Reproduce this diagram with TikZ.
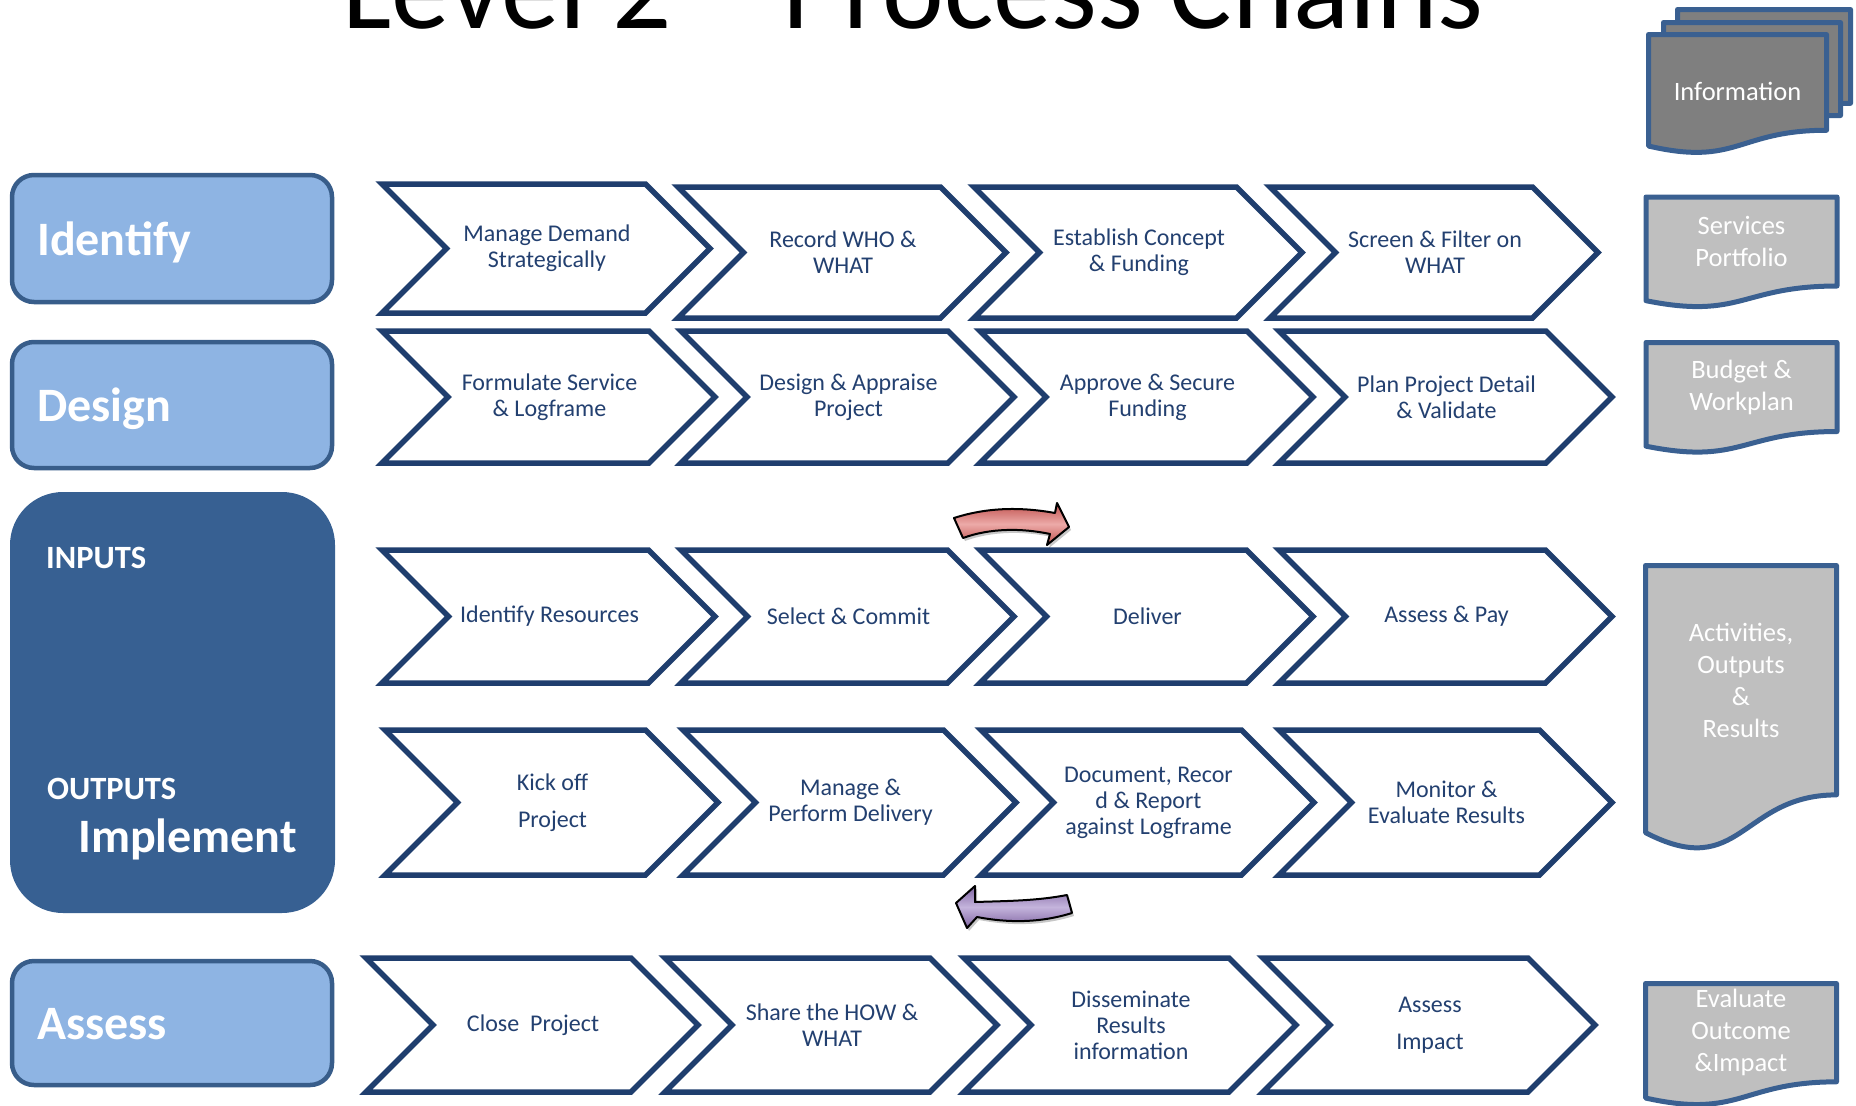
\documentclass[tikz,border=0pt]{standalone}
\usepackage{fontspec}
\setmainfont{Carlito}
\definecolor{navy}{RGB}{31,62,110}
\definecolor{navytext}{RGB}{35,64,112}
\definecolor{lightblue}{RGB}{142,180,227}
\definecolor{boxborder}{RGB}{56,93,138}
\definecolor{implblue}{RGB}{55,96,146}
\definecolor{docborder}{RGB}{58,96,145}
\definecolor{docfill}{RGB}{191,191,191}
\definecolor{docdark}{RGB}{127,127,127}
\definecolor{redE}{RGB}{192,80,77}
\definecolor{redM}{RGB}{236,170,168}
\definecolor{purE}{RGB}{128,100,162}
\definecolor{purM}{RGB}{196,180,220}
\tikzset{
 chevline/.style={draw=navy, line width=5.5pt, fill=white, line join=miter},
 chevtext/.style={text=navytext, align=center, font=\fontsize{24}{26}\selectfont, inner sep=0pt},
 lightbox/.style={draw=boxborder, line width=4.5pt, fill=lightblue, rounded corners=22pt, inner sep=0pt},
 phase/.style={text=white, font=\bfseries\fontsize{48}{52}\selectfont, anchor=base west, inner sep=0pt},
 subphase/.style={text=white, font=\bfseries\fontsize{32.5}{35}\selectfont, anchor=base west, inner sep=0pt},
 docline/.style={draw=docborder, line width=5pt, line join=round},
 doctext/.style={text=white, align=center, font=\fontsize{26.5}{32}\selectfont, inner sep=0pt},
 bentarrow/.style={draw=black, line width=2pt, line join=round,
   preaction={fill=black, fill opacity=0.22, transform canvas={shift={(2pt,-3pt)}}}},
}
\newcommand{\mychev}[6]{%
 \draw[chevline] (#2,#3) -- ({#2+#5-(#4-#3)/2},#3) -- ({#2+#5},{(#3+#4)/2}) -- ({#2+#5-(#4-#3)/2},#4) -- (#2,#4) -- ({#2+(#4-#3)/2},{(#3+#4)/2}) -- cycle;
 \node[chevtext] (#1) at ({#2+#5/2+1},{(#3+#4)/2}) {#6};
}
\newcommand{\mydoc}[7]{%
 \draw[docline, fill=#6] (#2,#3) -- ({#2+#4},#3) -- ({#2+#4},{#3+0.802*#5}) .. controls ({#2+0.5*#4},{#3+0.802*#5}) and ({#2+0.5*#4},{#3+1.107*#5}) .. (#2,{#3+0.934*#5}) -- cycle;
 \node[doctext] (#1) at ({#2+0.5*#4},{#3+0.401*#5}) {#7};
}
\begin{document}
\begin{tikzpicture}[x=1pt,y=-1pt]
\useasboundingbox (0,0) rectangle (1856,1106);
\clip (0,0) rectangle (1856,1106);
\fill[white] (0,0) rectangle (1856,1106);

% title
\node[anchor=base, font=\fontsize{117}{120}\selectfont, inner sep=0pt] (title) at (913,28) {Level 2 – Process Chains};

% left phase boxes
\node[lightbox, minimum width=320pt, minimum height=127pt] (identifyBox) at (172,238.5) {};
\node[phase] (identifyT) at (37,255) {Identify};
\node[lightbox, minimum width=320pt, minimum height=126pt] (designBox) at (172,405) {};
\node[phase] (designT) at (37,421) {Design};
\node[fill=implblue, rounded corners=53pt, minimum width=325pt, minimum height=421pt, inner sep=0pt] (implBox) at (172.5,702.5) {};
\node[subphase] (inputsT) at (46,568) {INPUTS};
\node[subphase] (outputsT) at (47,799) {OUTPUTS};
\node[phase] (implT) at (78,852) {Implement};
\node[lightbox, minimum width=320pt, minimum height=124pt] (assessBox) at (172,1023) {};
\node[phase] (assessT) at (37,1039.5) {Assess};

% row 1
\mychev{c11}{382}{184}{313}{328}{Manage Demand\\Strategically}
\mychev{c12}{678}{187}{318}{328}{Record WHO \&\\WHAT}
\mychev{c13}{974}{187}{318}{328}{Establish Concept\\\& Funding}
\mychev{c14}{1270}{187}{318}{328}{Screen \& Filter on\\WHAT}
% row 2
\mychev{c21}{382}{331}{463}{333}{Formulate Service\\\& Logframe}
\mychev{c22}{681}{331}{463}{333}{Design \& Appraise\\Project}
\mychev{c23}{980}{331}{463}{333}{Approve \& Secure\\Funding}
\mychev{c24}{1279}{331}{463}{333}{Plan Project Detail\\\& Validate}
% row 3
\mychev{c31}{382}{550}{683}{333}{Identify Resources}
\mychev{c32}{681}{550}{683}{333}{Select \& Commit}
\mychev{c33}{980}{550}{683}{333}{Deliver}
\mychev{c34}{1279}{550}{683}{333}{Assess \& Pay}
% row 4
\mychev{c41}{385}{730}{875}{333}{Kick off\\[11pt]Project}
\mychev{c42}{683}{730}{875}{333}{Manage \&\\Perform Delivery}
\mychev{c43}{981}{730}{875}{333}{Document, Recor\\d \& Report\\against Logframe}
\mychev{c44}{1279}{730}{875}{333}{Monitor \&\\Evaluate Results}
% row 5
\mychev{c51}{366}{958}{1092}{332}{Close~~Project}
\mychev{c52}{665}{958}{1092}{332}{Share the HOW \&\\WHAT}
\mychev{c53}{964}{958}{1092}{332}{Disseminate\\Results\\information}
\mychev{c54}{1263}{958}{1092}{332}{Assess\\[11pt]Impact}

% curved arrows
\path[bentarrow, top color=redE, bottom color=redE, middle color=redM]
  (954,518) .. controls (988,507) and (1022,507) .. (1055,513) -- (1057,503) -- (1069,527) -- (1047,545) -- (1050,534) .. controls (1022,528) and (990,528) .. (963,538) -- cycle;
\path[bentarrow, top color=purE, bottom color=purE, middle color=purM]
  (1067,895) .. controls (1036,901) and (1005,901) .. (975,902) -- (975,886) -- (956,903) -- (967,928) -- (977,917) .. controls (1008,923) and (1040,923) .. (1072,913) -- cycle;

% information stack
\mydoc{infoC}{1677.5}{9.5}{173}{117}{docdark}{}
\mydoc{infoB}{1663.5}{22.5}{177}{116}{docdark}{}
\mydoc{infoA}{1648.5}{34.5}{178}{119.4}{docdark}{}
\node[doctext] (infoT) at (1737.5,91) {Information};

% documents
\mydoc{services}{1646}{197}{191}{111}{docfill}{Services\\Portfolio}
\mydoc{budget}{1646}{342.5}{191}{111}{docfill}{Budget \&\\Workplan}
\mydoc{activities}{1645.5}{565.5}{191}{286}{docfill}{Activities,\\Outputs\\\&\\Results}
\mydoc{evaluate}{1645.5}{983.5}{191}{122.6}{docfill}{Evaluate\\Outcome\\\&Impact}
\end{tikzpicture}
\end{document}
